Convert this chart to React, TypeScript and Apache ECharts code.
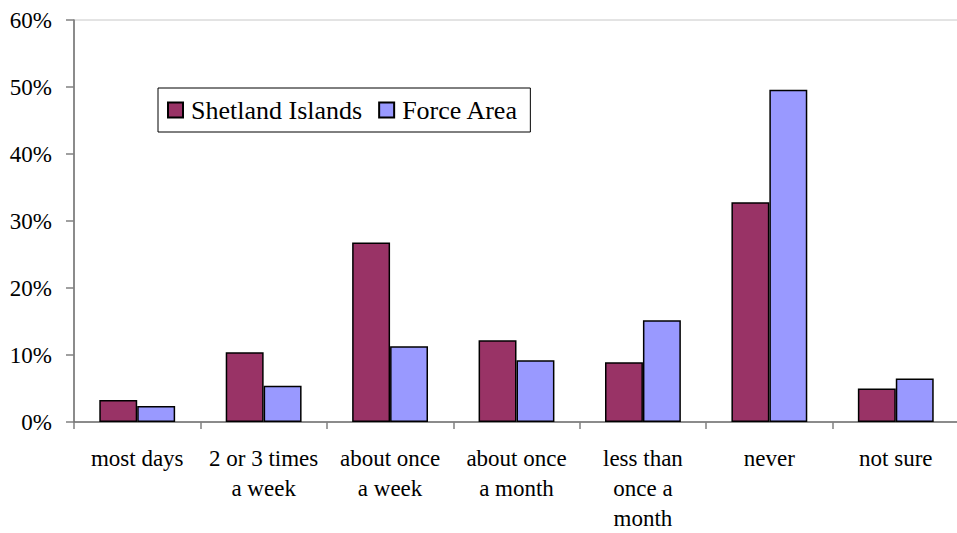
import React, { useEffect, useRef } from "react";
import * as echarts from "echarts";

const categories = [
  "most days",
  "2 or 3 times\na week",
  "about once\na week",
  "about once\na month",
  "less than\nonce a\nmonth",
  "never",
  "not sure",
];
const shetland = [3.3, 10.4, 26.8, 12.2, 8.9, 32.8, 5.0];
const forceArea = [2.4, 5.4, 11.3, 9.2, 15.2, 49.6, 6.5];
const seriesNames = ["Shetland Islands", "Force Area"];

const FONT = "Liberation Serif";

export default function App() {
  const ref = useRef<HTMLDivElement>(null);
  useEffect(() => {
    if (!ref.current) return;
    const chart = echarts.init(ref.current, undefined, { renderer: "svg" });
    chart.setOption({
      animation: false,
      backgroundColor: "#ffffff",
      grid: {
        left: 74,
        top: 20,
        width: 885,
        height: 402,
        show: true,
        borderColor: "#c8c8c8",
        borderWidth: 1,
        containLabel: false,
        outerBoundsMode: "none",
      },
      legend: {
        left: 158,
        top: 88,
        orient: "horizontal",
        icon: "rect",
        backgroundColor: "#ffffff",
        borderColor: "#000000",
        borderWidth: 1,
        padding: [9, 12, 9, 9],
        itemWidth: 15,
        itemHeight: 15,
        itemGap: 16,
        textStyle: {
          fontFamily: FONT,
          fontSize: 26,
          color: "#000000",
          padding: [0, 0, 0, 3],
        },
        data: seriesNames,
      },
      xAxis: {
        type: "category",
        data: categories,
        axisLine: { show: true, lineStyle: { color: "#6e6e6e", width: 1.5 } },
        axisTick: { show: true, length: 7, lineStyle: { color: "#808080", width: 1.5 } },
        axisLabel: {
          fontFamily: FONT,
          fontSize: 23,
          color: "#000000",
          lineHeight: 30,
          margin: 21,
          interval: 0,
        },
      },
      yAxis: {
        type: "value",
        min: 0,
        max: 60,
        interval: 10,
        axisLine: { show: true, lineStyle: { color: "#6e6e6e", width: 1.5 } },
        axisTick: { show: true, length: 8, lineStyle: { color: "#808080", width: 1.5 } },
        splitLine: { show: false },
        axisLabel: {
          fontFamily: FONT,
          fontSize: 23,
          color: "#000000",
          margin: 22,
          formatter: "{value}%",
        },
      },
      series: [
        {
          name: seriesNames[0],
          type: "bar",
          data: shetland,
          barGap: "0%",
          barCategoryGap: "40%",
          itemStyle: { color: "#993366", borderColor: "#000000", borderWidth: 1.5 },
        },
        {
          name: seriesNames[1],
          type: "bar",
          data: forceArea,
          barGap: "0%",
          barCategoryGap: "40%",
          itemStyle: { color: "#9999ff", borderColor: "#000000", borderWidth: 1.5 },
        },
      ],
    });
    return () => chart.dispose();
  }, []);
  return (
    <div
      ref={ref}
      style={{ position: "fixed", left: 0, top: 0, width: 957, height: 533 }}
    />
  );
}
